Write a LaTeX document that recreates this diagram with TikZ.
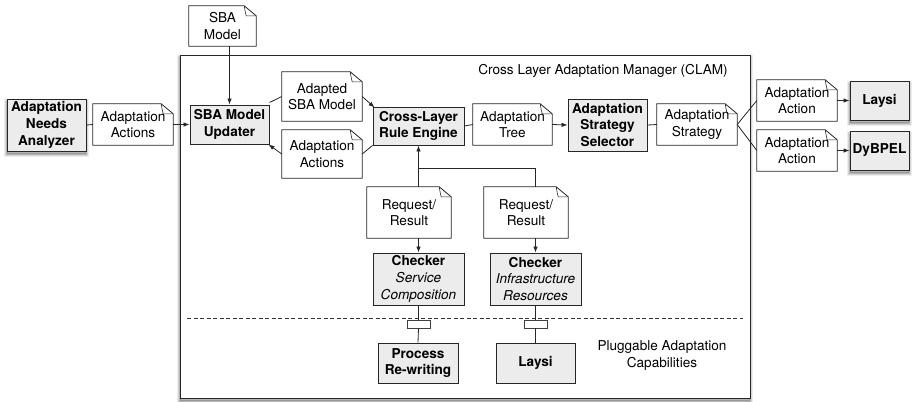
\documentclass[tikz,border=0pt]{standalone}
\usepackage{fontspec}
\setmainfont{TeX Gyre Heros}
\usetikzlibrary{arrows.meta}
\newcommand\docoutline[1]{%
  \draw[conn] (#1.north west) -- ([xshift=-12pt]#1.north east) -- ([yshift=-10pt]#1.north east) -- (#1.south east) -- (#1.south west) -- cycle;
  \draw[conn, line width=0.6pt] ([xshift=-12pt]#1.north east) .. controls ([xshift=-11pt,yshift=-6pt]#1.north east) .. ([xshift=-10pt,yshift=-10pt]#1.north east) -- ([yshift=-10pt]#1.north east);}
\begin{document}
\begin{tikzpicture}[x=1pt,y=-1pt,
  every node/.style={font=\fontsize{13.6}{16.6}\selectfont, align=center, inner sep=0pt},
  box/.style={draw=black!85, line width=0.9pt, fill=gray!15, font=\fontsize{13.6}{16.6}\selectfont\bfseries},
  shad/.style={
    preaction={draw=black, line width=6pt, opacity=0.07, transform canvas={yshift=-2.5pt}},
    preaction={draw=black, line width=4pt, opacity=0.1, transform canvas={yshift=-2.5pt}},
    preaction={draw=black, line width=2pt, opacity=0.15, fill=black, transform canvas={yshift=-2.5pt}}},
  conn/.style={draw=black!85, line width=0.8pt},
  arr/.style={conn, -{Latex[length=6pt,width=4.5pt]}},
  plug/.style={draw=black!75, fill=white, line width=0.7pt, minimum width=23pt, minimum height=8pt}]
\useasboundingbox (0,0) rectangle (914,402);
% container
\node[draw=black!85, line width=0.9pt, fill=white, shad, minimum width=570pt, minimum height=343pt] (clam) at (465,226.5) {};
\node (clamlbl) at (603,71) {Cross Layer Adaptation Manager (CLAM)};
\node (pluglbl) at (662,355.5) {Pluggable Adaptation\\Capabilities};
\draw[black!80, line width=0.7pt, dash pattern=on 4pt off 2.5pt] (187,318) coordinate (dl) -- (743,318) coordinate (dr);
% boxes
\node[box, shad, minimum width=79pt, minimum height=52pt] (ana) at (46.5,125) {Adaptation\\Needs\\Analyzer};
\node[box, minimum width=79pt, minimum height=39pt] (upd) at (229.5,124.5) {SBA Model\\Updater};
\node[box, minimum width=91pt, minimum height=38pt] (clre) at (418.5,126) {Cross-Layer\\Rule Engine};
\node[box, minimum width=79pt, minimum height=52pt] (ass) at (607.5,125) {Adaptation\\Strategy\\Selector};
\node[box, shad, minimum width=59pt, minimum height=39pt] (laysiA) at (879.5,100.5) {Laysi};
\node[box, shad, minimum width=59pt, minimum height=39pt] (dyb) at (879.5,150.5) {DyBPEL};
\node[box, minimum width=91pt, minimum height=52pt] (chk1) at (418.5,279) {Checker\\\normalfont\itshape Service\\\normalfont\itshape Composition};
\node[box, minimum width=91pt, minimum height=52pt] (chk2) at (535.5,279) {Checker\\\normalfont\itshape Infrastructure\\\normalfont\itshape Resources};
\node[plug] (p1) at (418.5,324) {};
\node[plug] (p2) at (535.5,324) {};
\node[box, minimum width=80pt, minimum height=40pt] (proc) at (418,363) {Process\\Re-writing};
\node[box, minimum width=79pt, minimum height=40pt] (laysiB) at (535.5,363) {Laysi};
% documents
\node[minimum width=67pt, minimum height=40pt] (sbam) at (222.5,26) {SBA\\Model};
\node[minimum width=80pt, minimum height=41pt] (aa1) at (133,124.5) {Adaptation\\Actions};
\node[minimum width=80pt, minimum height=49pt] (adm) at (322,96.5) {Adapted\\SBA Model};
\node[minimum width=80pt, minimum height=48pt] (aa2) at (322,154) {Adaptation\\Actions};
\node[minimum width=79pt, minimum height=41pt] (tree) at (512.5,124.5) {Adaptation\\Tree};
\node[minimum width=80pt, minimum height=41pt] (strat) at (697,124.5) {Adaptation\\Strategy};
\node[minimum width=80pt, minimum height=41pt] (act1) at (797,100.5) {Adaptation\\Action};
\node[minimum width=80pt, minimum height=41pt] (act2) at (797,150.5) {Adaptation\\Action};
\node[minimum width=84pt, minimum height=51pt] (rr1) at (409,212.5) {Request/\\Result};
\node[minimum width=84pt, minimum height=51pt] (rr2) at (526,212.5) {Request/\\Result};
\foreach \d in {sbam,aa1,adm,aa2,tree,strat,act1,act2,rr1,rr2} {\docoutline{\d}}
% connectors
\draw[arr] (upd.north |- sbam.south) -- (upd.north);
\draw[conn] (ana.east) -- (aa1.west);
\draw[arr] (aa1.east) -- (upd.west);
\draw[conn] ([yshift=2pt]upd.north east) -- (adm.west);
\draw[arr] (adm.east) -- ([xshift=2pt,yshift=-1pt]clre.north west);
\draw[conn] (clre.south west) -- (aa2.east);
\draw[arr] (aa2.west) -- ([xshift=-1pt]upd.south east);
\draw[conn] (clre.east) -- (tree.west);
\draw[arr] (tree.east) -- (ass.west);
\draw[conn] (ass.east) -- (strat.west);
\draw[conn] (strat.east) -- (act1.west);
\draw[conn] (strat.east) -- (act2.west);
\draw[arr] (act1.east) -- (laysiA.west);
\draw[arr] (act2.east) -- (dyb.west);
\coordinate (j) at (418.5,168);
\draw[arr] (chk1.north |- rr1.north) -- (clre.south);
\draw[conn] (chk2.north |- rr2.north) |- (j);
\draw[arr] (chk1.north |- rr1.south) -- (chk1.north);
\draw[arr] (chk2.north |- rr2.south) -- (chk2.north);
\draw[conn] (chk1.south) -- (p1.north);
\draw[conn] (p1.south) -- (proc.north);
\draw[conn] (chk2.south) -- (p2.north);
\draw[conn] (p2.south) -- (laysiB.north);
\end{tikzpicture}
\end{document}
